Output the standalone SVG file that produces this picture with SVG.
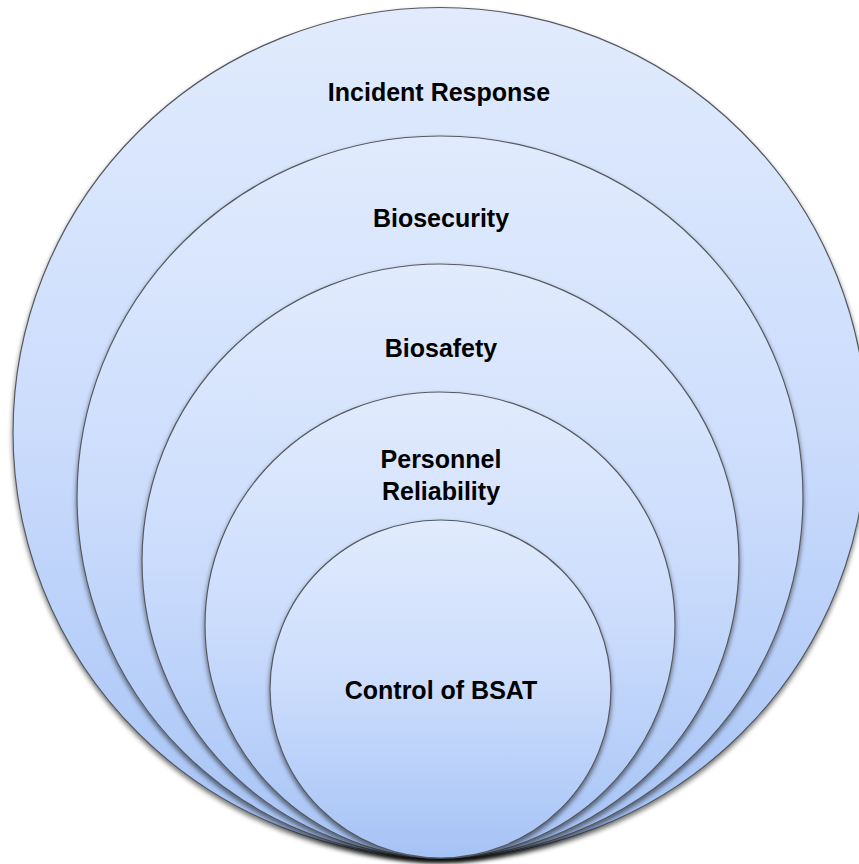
<svg xmlns="http://www.w3.org/2000/svg" width="859" height="864" viewBox="0 0 859 864">
  <defs>
    <linearGradient id="fillGrad" x1="0" y1="0" x2="0" y2="1">
      <stop offset="0" stop-color="#e1ebfd"/>
      <stop offset="0.5" stop-color="#cbdcfc"/>
      <stop offset="1" stop-color="#a6c3f6"/>
    </linearGradient>
    <filter id="shadow" x="-10%" y="-10%" width="120%" height="125%">
      <feGaussianBlur in="SourceAlpha" stdDeviation="2.5"/>
      <feOffset dx="0" dy="3" result="blur"/>
      <feComponentTransfer>
        <feFuncA type="linear" slope="0.55"/>
      </feComponentTransfer>
      <feMerge>
        <feMergeNode/>
        <feMergeNode in="SourceGraphic"/>
      </feMerge>
    </filter>
    <style>
      .ring { fill: url(#fillGrad); stroke: #555a60; stroke-width: 1.2; filter: url(#shadow); }
      .label { font-family: "Liberation Sans", Arial, sans-serif; font-weight: bold; font-size: 25px; fill: #000000; text-anchor: middle; }
    </style>
  </defs>

  <g id="node-incident-response">
    <ellipse class="ring" cx="440" cy="432.5" rx="427" ry="425"/>
    <text class="label" x="439" y="101">Incident Response</text>
  </g>

  <g id="node-biosecurity">
    <ellipse class="ring" cx="440" cy="497" rx="363" ry="361"/>
    <text class="label" x="441" y="227">Biosecurity</text>
  </g>

  <g id="node-biosafety">
    <ellipse class="ring" cx="440.5" cy="561" rx="298.5" ry="297"/>
    <text class="label" x="441" y="357">Biosafety</text>
  </g>

  <g id="node-personnel-reliability">
    <ellipse class="ring" cx="440" cy="625" rx="235" ry="233"/>
    <text class="label" x="441" y="468">Personnel</text>
    <text class="label" x="441" y="500">Reliability</text>
  </g>

  <g id="node-control-of-bsat">
    <ellipse class="ring" cx="440.5" cy="689" rx="170.5" ry="169"/>
    <text class="label" x="441" y="699">Control of BSAT</text>
  </g>

  <g id="connectors"></g>
</svg>
